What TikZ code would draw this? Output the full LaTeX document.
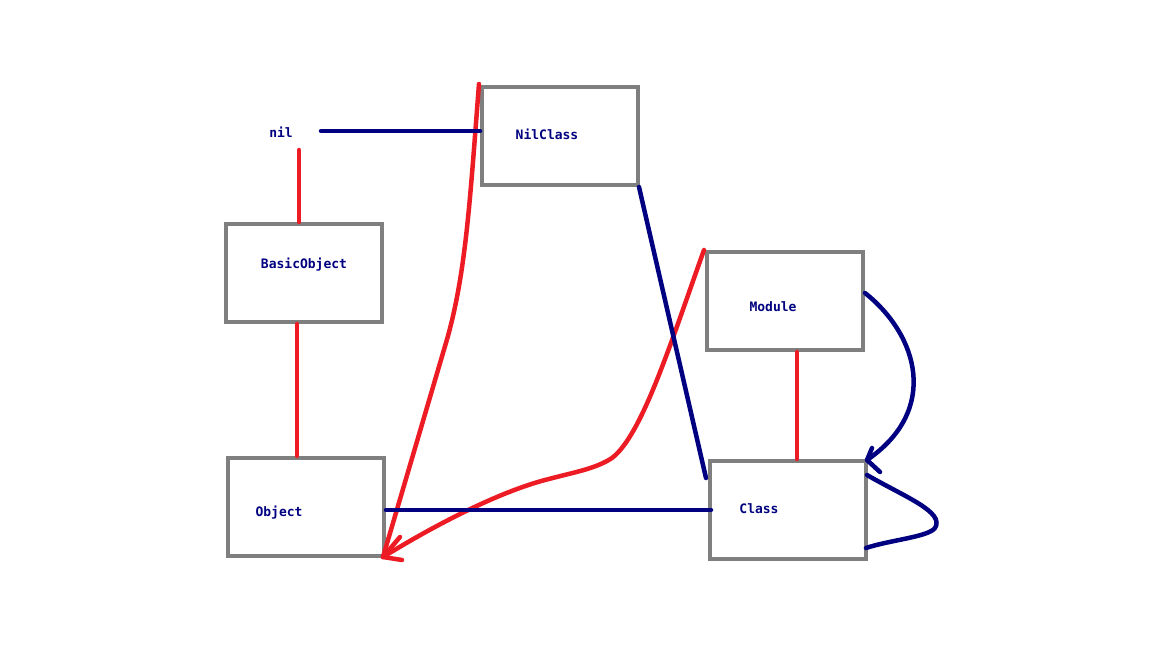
\documentclass[tikz,border=0pt]{standalone}
\usepackage{fontspec}
\setmonofont{DejaVu Sans Mono}
\definecolor{boxgray}{HTML}{7F7F7F}
\definecolor{pred}{HTML}{ED1C24}
\definecolor{navy}{HTML}{000080}
\begin{document}
\begin{tikzpicture}[x=1pt,y=-1pt,
  box/.style={draw=boxgray, line width=4pt, minimum width=156pt, minimum height=98pt, inner sep=0pt, fill=white},
  lbl/.style={text=navy, font=\ttfamily\bfseries\fontsize{13}{15}\selectfont, inner sep=0pt, anchor=base},
  redline/.style={draw=pred, line width=4.5pt, line cap=round, line join=round},
  blueline/.style={draw=navy, line width=4.5pt, line cap=round, line join=round}]
\useasboundingbox (0,0) rectangle (1152,648);
\fill[white] (0,0) rectangle (1152,648);
% boxes
\node[box] (nilc) at (560,136) {};
\node[box] (basic) at (304,273) {};
\node[box] (obj) at (306,507) {};
\node[box] (mod) at (785,301) {};
\node[box] (cls) at (788,510) {};
% labels
\node[lbl] (nil) at (281,137) {nil};
\node[lbl] (nilct) at (547,139) {NilClass};
\node[lbl] (basict) at (304,268) {BasicObject};
\node[lbl] (modt) at (773,311) {Module};
\node[lbl] (objt) at (279,516) {Object};
\node[lbl] (clst) at (759,513) {Class};
% helper coordinates
\coordinate (nilbot) at (299,150);
\coordinate (nilright) at (321,131);
\coordinate (tip) at (383,557);
\coordinate (bend1) at (448,336);
\coordinate (bend2) at (612,458);
\coordinate (bend3) at (545,480);
% red lines
\draw[redline] (nilbot) -- (basic.north -| nilbot);
\draw[redline] ([xshift=-7pt]basic.south) -- ([xshift=-9pt]obj.north);
\draw[redline] ([xshift=12pt]mod.south) -- ([xshift=9pt]cls.north);
\draw[redline] ([xshift=-1pt,yshift=1pt]nilc.north west) .. controls (470,200) and (466,270) .. (bend1) -- (tip);
\draw[redline] ([xshift=-1pt]mod.north west) .. controls (670,345) and (642,435) .. (bend2)
   .. controls (595,469) and (575,472) .. (bend3)
   .. controls (500,492) and (440,522) .. (tip);
\draw[redline] (400,537) -- (tip) -- (402,560);
% blue lines
\draw[blueline] (nilright) -- (nilc.west |- nilright);
\draw[blueline] ([xshift=-1pt]nilc.south east) -- ([xshift=-2pt,yshift=-19pt]cls.north west);
\draw[blueline] (obj.east |- cls.west) -- ([xshift=3pt]cls.west);
\draw[blueline] ([yshift=8pt]mod.east) .. controls (918,335) and (940,410) .. ([xshift=-1pt,yshift=-1pt]cls.north east);
\draw[blueline] (872,448) -- ([xshift=-1pt,yshift=-1pt]cls.north east) -- (880,472);
\draw[blueline] ([xshift=-1pt,yshift=-16pt]cls.north east) .. controls (905,497) and (945,512) .. (935,528)
   .. controls (928,537) and (890,540) .. ([xshift=-2pt,yshift=13pt]cls.south east);
\end{tikzpicture}
\end{document}
